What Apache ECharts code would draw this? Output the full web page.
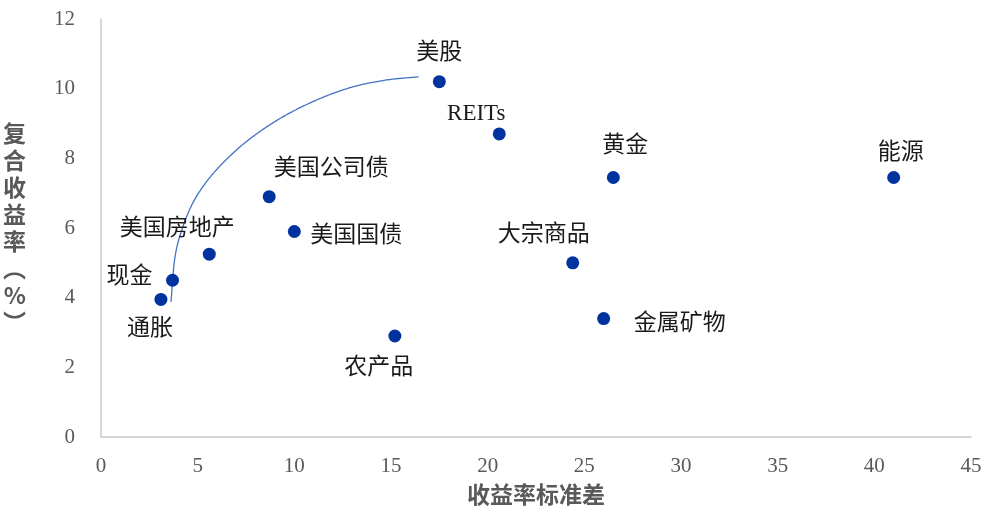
<!DOCTYPE html>
<html>
<head>
<meta charset="utf-8">
<script src="https://cdn.jsdelivr.net/npm/echarts@6/dist/echarts.min.js"></script>
<style>
  html, body { margin: 0; padding: 0; background: #fff; }
  #chart { width: 1000px; height: 514px; }
</style>
</head>
<body>
<div id="chart"></div>
<script>
// Assets: return standard deviation (x) vs compound return in % (y)
const assetNames = ['美股', 'REITs', '黄金', '能源', '美国公司债', '美国国债', '美国房地产', '大宗商品', '现金', '通胀', '金属矿物', '农产品'];
const assetStdDev = [17.5, 20.6, 26.5, 41.0, 8.7, 10.0, 5.6, 24.4, 3.7, 3.1, 26.0, 15.2];
const assetReturn = [10.2, 8.7, 7.45, 7.45, 6.9, 5.9, 5.25, 5.0, 4.5, 3.95, 3.4, 2.9];

// Frontier curve traced through the low-risk assets up towards equities
const frontierStdDev = [3.62, 3.82, 4.18, 4.75, 5.53, 6.51, 7.75, 9.40, 11.26, 13.02, 14.78, 16.43];
const frontierReturn = [3.88, 5.14, 5.94, 6.72, 7.38, 7.98, 8.58, 9.19, 9.70, 10.05, 10.25, 10.34];

const xTicks = { min: 0, max: 45, interval: 5 };
const yTicks = { min: 0, max: 12, interval: 2 };

// Label placement (pixel offsets from each point's centre), same order as assetNames
const labelOffsets = [[0, -29], [-23, -20], [12, -32], [7, -25], [62, -28], [62, 4], [-32, -25], [-29, -28], [-43, -3], [-11, 30], [76, 5], [-16, 32]];

const serif = '"Liberation Serif", "Times New Roman", "Noto Sans CJK SC", serif';
const labelFont = '"Liberation Serif", "Noto Sans CJK SC", serif';

const scatterData = assetNames.map((n, i) => ({
  name: n,
  value: [assetStdDev[i], assetReturn[i]],
  label: { offset: labelOffsets[i] }
}));

// Catmull-Rom spline through pixel points, returned as a dense polyline
function splinePoints(pts, steps) {
  const out = [];
  const n = pts.length;
  const get = i => {
    if (i < 0) return [2 * pts[0][0] - pts[1][0], 2 * pts[0][1] - pts[1][1]];
    if (i >= n) return [2 * pts[n - 1][0] - pts[n - 2][0], 2 * pts[n - 1][1] - pts[n - 2][1]];
    return pts[i];
  };
  for (let i = 0; i < n - 1; i++) {
    const p0 = get(i - 1), p1 = get(i), p2 = get(i + 1), p3 = get(i + 2);
    const c1 = [p1[0] + (p2[0] - p0[0]) / 6, p1[1] + (p2[1] - p0[1]) / 6];
    const c2 = [p2[0] - (p3[0] - p1[0]) / 6, p2[1] - (p3[1] - p1[1]) / 6];
    for (let s = 0; s < steps; s++) {
      const t = s / steps, u = 1 - t;
      out.push([
        u * u * u * p1[0] + 3 * u * u * t * c1[0] + 3 * u * t * t * c2[0] + t * t * t * p2[0],
        u * u * u * p1[1] + 3 * u * u * t * c1[1] + 3 * u * t * t * c2[1] + t * t * t * p2[1]
      ]);
    }
  }
  out.push(pts[n - 1]);
  return out;
}

const chart = echarts.init(document.getElementById('chart'), null, { renderer: 'canvas' });
chart.setOption({
  animation: false,
  backgroundColor: '#ffffff',
  grid: { left: 100, right: 29, top: 19, bottom: 77, containLabel: false },
  xAxis: {
    type: 'value',
    min: xTicks.min, max: xTicks.max, interval: xTicks.interval,
    name: '收益率标准差',
    nameLocation: 'middle',
    nameGap: 46,
    nameTextStyle: { fontFamily: '"Noto Sans CJK SC", sans-serif', fontWeight: 'bold', fontSize: 23, color: '#595959' },
    axisLine: { show: true, lineStyle: { color: '#C8C8C8', width: 1.5 } },
    axisTick: { show: false },
    splitLine: { show: false },
    axisLabel: { fontFamily: serif, fontSize: 21, color: '#595959', margin: 19 }
  },
  yAxis: {
    type: 'value',
    min: yTicks.min, max: yTicks.max, interval: yTicks.interval,
    name: '复\n合\n收\n益\n率\n︵\n%\n︶',
    nameLocation: 'middle',
    nameRotate: 0,
    nameGap: 75,
    nameTextStyle: { fontFamily: '"Noto Sans CJK SC", sans-serif', fontWeight: 'bold', fontSize: 23, lineHeight: 27, color: '#595959' },
    axisLine: { show: true, lineStyle: { color: '#C8C8C8', width: 1.5 } },
    axisTick: { show: false },
    splitLine: { show: false },
    axisLabel: { fontFamily: serif, fontSize: 21, color: '#595959', margin: 26 }
  },
  series: [
    {
      type: 'custom',
      coordinateSystem: 'cartesian2d',
      data: frontierStdDev.map((x, i) => [x, frontierReturn[i]]),
      encode: { x: 0, y: 1 },
      silent: true,
      z: 2,
      renderItem: function (params, api) {
        if (params.dataIndex !== 0) return null;
        const pts = frontierStdDev.map((x, i) => api.coord([x, frontierReturn[i]]));
        return {
          type: 'polyline',
          shape: { points: splinePoints(pts, 24) },
          style: { stroke: '#4472C4', lineWidth: 1.3, fill: null }
        };
      }
    },
    {
      type: 'scatter',
      data: scatterData,
      symbolSize: 13,
      itemStyle: { color: '#0033A0', opacity: 1 },
      label: {
        show: true,
        position: 'inside',
        formatter: p => p.name,
        fontFamily: labelFont,
        fontSize: 23,
        color: '#1a1a1a'
      },
      z: 3
    }
  ]
});
</script>
</body>
</html>
